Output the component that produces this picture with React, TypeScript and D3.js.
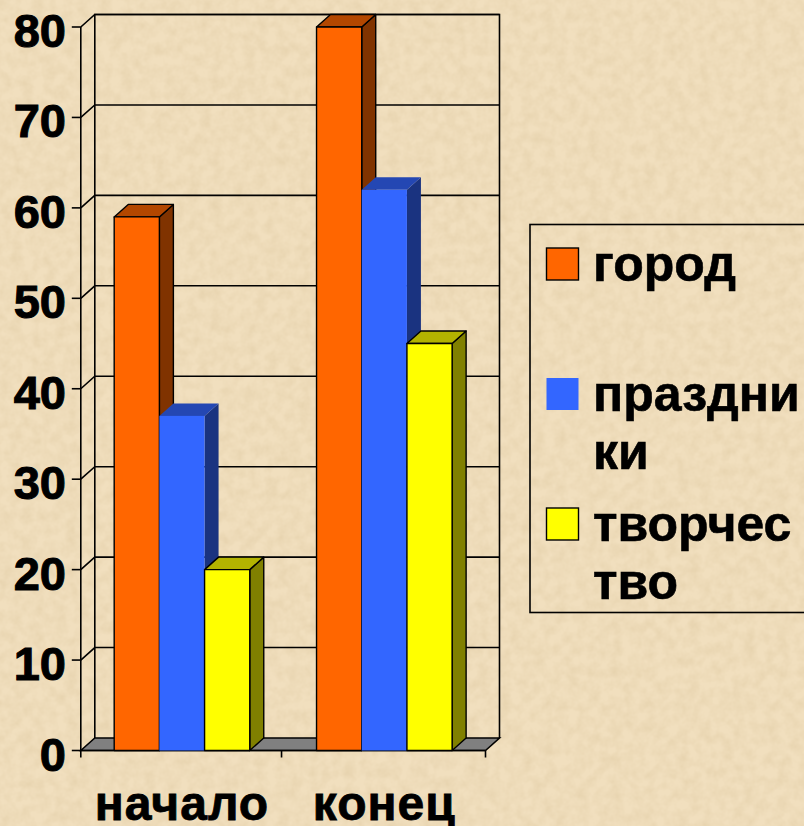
import React, {useEffect, useRef} from 'react';
import * as d3 from 'd3';

const categories = ['начало', 'конец'];
const seriesNames = ['город', 'праздники', 'творчество'];
const gorod = [59, 80];
const prazdniki = [37, 62];
const tvorchestvo = [20, 45];
const seriesValues = [gorod, prazdniki, tvorchestvo];
const yTicks = [0, 10, 20, 30, 40, 50, 60, 70, 80];

// front, top and side faces of each series
const faceColors = [
    ['#FF6600', '#B34700', '#803300'],
    ['#3366FF', '#2447B3', '#1A3380'],
    ['#FFFF00', '#B3B300', '#808000']
];
const outlineColors = ['#000', 'none', '#000'];
const legendLines = [['город'], ['праздни', 'ки'], ['творчес', 'тво']];

const width = 804;
const height = 826;
const depthX = 14;
const depthY = 12.5;

function App() {
    const svgRef = useRef<SVGSVGElement>(null);

    useEffect(() => {
        const svg = d3.select(svgRef.current);
        svg.selectAll('*').remove();

        const font = '"Liberation Sans", Arial, sans-serif';
        const ink = '#000';

        const defs = svg.append('defs');
        const paper = defs.append('filter')
            .attr('id', 'paper')
            .attr('x', 0).attr('y', 0).attr('width', '100%').attr('height', '100%');
        paper.append('feTurbulence')
            .attr('type', 'fractalNoise')
            .attr('baseFrequency', 0.09)
            .attr('numOctaves', 3)
            .attr('seed', 4);
        paper.append('feColorMatrix')
            .attr('values', '0 0 0 0 0.62  0 0 0 0 0.47  0 0 0 0 0.25  0.45 0 0 0 -0.14');

        svg.append('rect').attr('width', width).attr('height', height).attr('fill', '#F1DFBE');
        svg.append('rect').attr('width', width).attr('height', height).attr('filter', 'url(#paper)');

        const yScale = d3.scaleLinear().domain([0, 80]).range([750.5, 27]);
        const x0 = d3.scaleBand()
            .domain(categories)
            .range([80.8, 485.5])
            .paddingInner(0.33)
            .paddingOuter(0.165);
        const x1 = d3.scaleBand()
            .domain(seriesNames)
            .range([0, x0.bandwidth()]);

        const left = x0.range()[0];
        const right = x0.range()[1];
        const wall = svg.append('g').attr('fill', 'none').attr('stroke', ink).attr('stroke-width', 1.6);

        // floor
        wall.append('path')
            .attr('fill', '#808080')
            .attr('d', `M${left},${yScale(0)}L${left + depthX},${yScale(0) - depthY}H${right + depthX}L${right},${yScale(0)}Z`);

        // back wall and gridlines
        wall.append('path')
            .attr('d', `M${left + depthX},${yScale(0) - depthY}V${yScale(80) - depthY}H${right + depthX}V${yScale(0) - depthY}`);
        wall.selectAll('.grid')
            .data(yTicks.filter(t => t > 0))
            .join('path')
            .attr('class', 'grid')
            .attr('d', t => `M${left},${yScale(t)}L${left + depthX},${yScale(t) - depthY}H${right + depthX}`);

        // axes
        wall.append('path').attr('d', `M${left},${yScale(0)}V${yScale(80)}`);
        wall.selectAll('.ytick')
            .data(yTicks)
            .join('line')
            .attr('class', 'ytick')
            .attr('x1', left - 9).attr('x2', left)
            .attr('y1', t => yScale(t)).attr('y2', t => yScale(t));
        wall.append('line')
            .attr('x1', left).attr('x2', right)
            .attr('y1', yScale(0)).attr('y2', yScale(0));
        wall.selectAll('.xtick')
            .data([left, x0(categories[1]) - 35, right])
            .join('line')
            .attr('class', 'xtick')
            .attr('x1', d => d).attr('x2', d => d)
            .attr('y1', yScale(0)).attr('y2', yScale(0) + 7);

        svg.append('g')
            .attr('font-family', font)
            .attr('font-weight', 'bold')
            .attr('font-size', 47)
            .attr('stroke', ink)
            .attr('stroke-width', 1)
            .attr('text-anchor', 'end')
            .selectAll('text')
            .data(yTicks)
            .join('text')
            .attr('x', 66)
            .attr('y', t => yScale(t) + 20)
            .text(t => t);

        svg.append('g')
            .attr('font-family', font)
            .attr('font-weight', 'bold')
            .attr('font-size', 48)
            .attr('stroke', ink)
            .attr('stroke-width', 0.8)
            .attr('letter-spacing', 1)
            .attr('text-anchor', 'middle')
            .selectAll('text')
            .data(categories)
            .join('text')
            .attr('x', d => x0(d) + x0.bandwidth() / 2)
            .attr('y', 820)
            .text(d => d);

        // bars, left to right so that each one covers the side of the one before
        categories.forEach((cat, c) => {
            seriesNames.forEach((name, s) => {
                const bar = svg.append('g')
                    .attr('stroke', outlineColors[s])
                    .attr('stroke-width', 1.4)
                    .attr('stroke-linejoin', 'round');
                const xa = x0(cat) + x1(name);
                const xb = xa + x1.bandwidth();
                const yTop = yScale(seriesValues[s][c]);
                const yBase = yScale(0);
                bar.append('path')
                    .attr('fill', faceColors[s][2])
                    .attr('d', `M${xb},${yTop}L${xb + depthX},${yTop - depthY}V${yBase - depthY}L${xb},${yBase}Z`);
                bar.append('path')
                    .attr('fill', faceColors[s][1])
                    .attr('d', `M${xa},${yTop}L${xa + depthX},${yTop - depthY}H${xb + depthX}L${xb},${yTop}Z`);
                bar.append('rect')
                    .attr('fill', faceColors[s][0])
                    .attr('x', xa).attr('y', yTop)
                    .attr('width', xb - xa).attr('height', yBase - yTop);
            });
        });

        // legend
        const legend = svg.append('g');
        legend.append('rect')
            .attr('x', 530).attr('y', 224.5)
            .attr('width', 300).attr('height', 388)
            .attr('fill', 'none').attr('stroke', ink).attr('stroke-width', 1.6);
        const legendY = d3.scalePoint().domain(seriesNames).range([248, 508]);
        const lineStep = 58;
        seriesNames.forEach((name, s) => {
            legend.append('rect')
                .attr('x', 546.5).attr('y', legendY(name))
                .attr('width', 32).attr('height', 32)
                .attr('fill', faceColors[s][0])
                .attr('stroke', outlineColors[s] === 'none' ? 'none' : outlineColors[s])
                .attr('stroke-width', 1.4);
            legendLines[s].forEach((line, l) => {
                legend.append('text')
                    .attr('x', 593)
                    .attr('y', legendY(name) + 33 + l * lineStep)
                    .attr('font-family', font)
                    .attr('font-weight', 'bold')
                    .attr('font-size', 50)
                    .attr('stroke', ink)
                    .attr('stroke-width', 0.6)
                    .text(line);
            });
        });
    }, []);

    return <svg ref={svgRef} width={width} height={height}
                style={{position: 'fixed', left: 0, top: 0, display: 'block'}}/>;
}

export default App;
